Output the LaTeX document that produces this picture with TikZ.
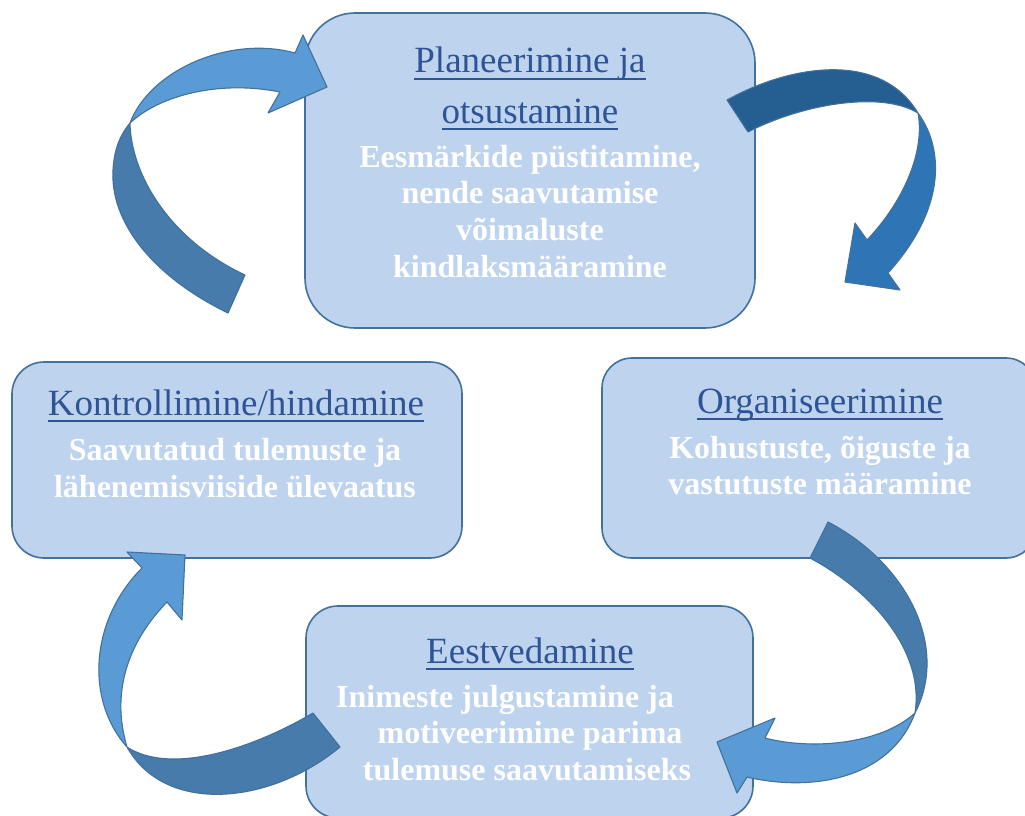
\documentclass[tikz,border=0pt]{standalone}
\usepackage{fontspec}
\setmainfont{Liberation Serif}
\definecolor{boxfill}{HTML}{BED3EE}
\definecolor{boxline}{HTML}{41719C}
\definecolor{titleblue}{HTML}{2F5496}
\definecolor{arrlight}{HTML}{5B9BD5}
\definecolor{arrdark}{HTML}{477BAB}
\definecolor{arrlightB}{HTML}{2E75B6}
\definecolor{arrdarkB}{HTML}{255E91}
\definecolor{arrline}{HTML}{41719C}
\newcommand\wordul[1]{\setbox0\hbox{#1}\rlap{\color{titleblue}\rule[-7pt]{\wd0}{1.8pt}}\box0}
\tikzset{
  box/.style={draw=boxline, fill=boxfill, line width=1.6pt, inner sep=0pt},
  ttl/.style={font=\fontsize{37}{44}\selectfont, text=titleblue, anchor=base, inner sep=0pt},
  bdy/.style={font=\bfseries\fontsize{32}{37}\selectfont, text=white, anchor=base, inner sep=0pt},
  arr/.style={draw=arrline, line width=1.1pt, line join=round},
}
\begin{document}
\begin{tikzpicture}[x=1pt,y=-1pt]
\useasboundingbox (0,0) rectangle (1025,816);
\clip (0,0) rectangle (1025,816);
% boxes
\node[box, rounded corners=50pt, minimum width=450pt, minimum height=315pt] (plan) at (530,170.5) {};
\node[box, rounded corners=32pt, minimum width=450pt, minimum height=196pt] (kontr) at (237,460) {};
\node[box, rounded corners=30pt, minimum width=434pt, minimum height=200pt] (org) at (819,458) {};
\node[box, rounded corners=32pt, minimum width=447pt, minimum height=212pt] (eest) at (529.5,712) {};
% texts: planning
\node[ttl] (p1) at (530,73) {\wordul{Planeerimine ja}};
\node[ttl] (p2) at (530,123) {\wordul{otsustamine}};
\node[bdy] (p3) at (530,167) {Eesmärkide püstitamine,};
\node[bdy] (p4) at (530,203) {nende saavutamise};
\node[bdy] (p5) at (530,240) {võimaluste};
\node[bdy] (p6) at (530,277) {kindlaksmääramine};
% control
\node[ttl] (k1) at (236,415) {\wordul{Kontrollimine/hindamine}};
\node[bdy] (k2) at (235,460) {Saavutatud tulemuste ja};
\node[bdy] (k3) at (235,497) {lähenemisviiside ülevaatus};
% organising
\node[ttl] (o1) at (820,413) {\wordul{Organiseerimine}};
\node[bdy] (o2) at (820,458) {Kohustuste, õiguste ja};
\node[bdy] (o3) at (820,494) {vastutuste määramine};
% leading
\node[ttl] (e1) at (530,663) {\wordul{Eestvedamine}};
\node[bdy] (e2) at (505,707) {Inimeste julgustamine ja};
\node[bdy] (e3) at (530,743) {motiveerimine parima};
\node[bdy] (e4) at (527,780) {tulemuse saavutamiseks};
% arrow top-left (control -> planning)
\path[arr, fill=arrdark] (245,275) -- (228,313)
  .. controls (150,275) and (110,220) .. (113,170)
  .. controls (114,150) and (120,135) .. (130,123)
  .. controls (131,175) and (170,240) .. (245,275) -- cycle;
\path[arr, fill=arrlight] (130,123)
  .. controls (150,70) and (230,35) .. (295,53)
  -- (303,35) -- (327,87) -- (268,113) -- (280,92)
  .. controls (220,80) and (160,95) .. (130,123) -- cycle;
% arrow top-right (planning -> organising)
\path[arr, fill=arrdarkB] (727,100)
  .. controls (790,65) and (880,50) .. (918,113)
  .. controls (880,90) and (800,105) .. (748,132) -- cycle;
\path[arr, fill=arrlightB] (918,113)
  .. controls (945,150) and (945,210) .. (888,273)
  -- (900,290) -- (845,282) -- (855,223) -- (867,240)
  .. controls (905,200) and (925,150) .. (918,113) -- cycle;
% arrow bottom-right (organising -> leading)
\path[arr, fill=arrdark] (828,522)
  .. controls (905,562) and (950,645) .. (915,713)
  .. controls (925,650) and (870,590) .. (810,558) -- cycle;
\path[arr, fill=arrlight] (915,713)
  .. controls (880,745) and (810,750) .. (765,738)
  -- (775,718) -- (717,742) -- (737,793) -- (747,777)
  .. controls (810,792) and (890,780) .. (915,713) -- cycle;
% arrow bottom-left (leading -> control)
\path[arr, fill=arrdark] (313,713)
  .. controls (250,750) and (170,775) .. (127,747)
  .. controls (165,815) and (270,805) .. (340,747) -- cycle;
\path[arr, fill=arrlight] (127,747)
  .. controls (85,700) and (90,620) .. (142,568)
  -- (127,552) -- (185,555) -- (182,620) -- (167,602)
  .. controls (130,640) and (110,690) .. (127,747) -- cycle;
\end{tikzpicture}
\end{document}
